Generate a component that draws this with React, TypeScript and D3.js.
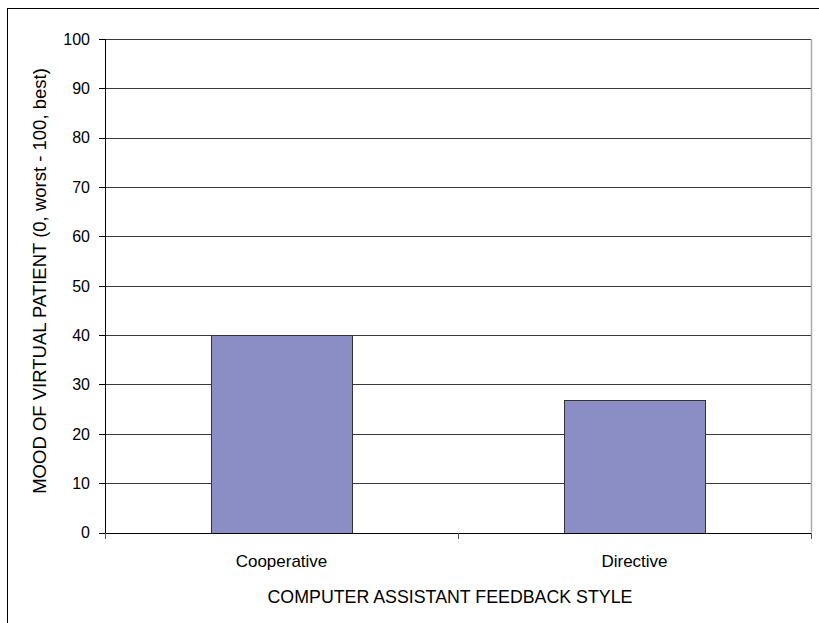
import React from "react";
import * as d3 from "d3";

const categories = ["Cooperative", "Directive"];
const moodValues = [40, 26.8];
const yTicks = [0, 10, 20, 30, 40, 50, 60, 70, 80, 90, 100];

const W = 819;
const H = 623;
const plot = { left: 105, right: 811, top: 39, bottom: 532.5 };
const font = "'Liberation Sans', Arial, sans-serif";

export default function App() {
  const x = d3
    .scaleBand<string>()
    .domain(categories)
    .range([plot.left, plot.right])
    .paddingInner(0.6)
    .paddingOuter(0.3);
  const band = d3.scaleBand<string>().domain(categories).range([plot.left, plot.right]);
  const y = d3.scaleLinear().domain([0, 100]).range([plot.bottom, plot.top]);

  return (
    <svg
      width={W}
      height={H}
      style={{ position: "absolute", left: 0, top: 0, background: "#fff" }}
      fontFamily={font}
    >
      {/* outer chart frame */}
      <rect x={7.5} y={8.5} width={W + 10} height={H + 10} fill="#fff" stroke="#000" strokeWidth={1} />

      {/* gridlines */}
      {yTicks.map((t) => (
        <line
          key={"g" + t}
          x1={plot.left}
          x2={plot.right}
          y1={Math.round(y(t)) + 0.5}
          y2={Math.round(y(t)) + 0.5}
          stroke="#3a3a3a"
          strokeWidth={1.2}
        />
      ))}
      {/* plot area right edge */}
      <line x1={plot.right + 0.5} x2={plot.right + 0.5} y1={plot.top} y2={plot.bottom} stroke="#aaa" strokeWidth={1.5} />

      {/* bars */}
      {categories.map((c, i) => (
        <rect
          key={c}
          x={Math.round(x(c)!) + 0.5}
          y={Math.round(y(moodValues[i])) + 0.5}
          width={Math.round(x.bandwidth())}
          height={Math.round(y(0)) - Math.round(y(moodValues[i]))}
          fill="#8a8ec4"
          stroke="#333"
          strokeWidth={1}
        />
      ))}

      {/* y axis */}
      <line x1={plot.left + 0.5} x2={plot.left + 0.5} y1={plot.top} y2={plot.bottom + 5} stroke="#000" strokeWidth={1} />
      {yTicks.map((t) => (
        <g key={"t" + t}>
          <line
            x1={plot.left - 6}
            x2={plot.left}
            y1={Math.round(y(t)) + 0.5}
            y2={Math.round(y(t)) + 0.5}
            stroke="#000"
          />
          <text x={plot.left - 15} y={y(t)} dy="0.36em" textAnchor="end" fontSize={16} fill="#000">
            {t}
          </text>
        </g>
      ))}

      {/* x axis */}
      <line x1={plot.left} x2={plot.right + 1} y1={Math.round(y(0)) + 0.5} y2={Math.round(y(0)) + 0.5} stroke="#000" />
      {[...categories.map((c) => band(c)!), plot.right].map((bx, i) => (
        <line
          key={"xt" + i}
          x1={Math.round(bx) + 0.5}
          x2={Math.round(bx) + 0.5}
          y1={Math.round(y(0))}
          y2={Math.round(y(0)) + 6}
          stroke="#555"
        />
      ))}
      {categories.map((c) => (
        <text
          key={"l" + c}
          x={band(c)! + band.bandwidth() / 2}
          y={567}
          textAnchor="middle"
          fontSize={17}
          fill="#000"
        >
          {c}
        </text>
      ))}

      <text x={(plot.left + plot.right) / 2 - 8} y={603} textAnchor="middle" fontSize={17.8} fill="#000">
        COMPUTER ASSISTANT FEEDBACK STYLE
      </text>
      <text
        transform={`translate(46, 281) rotate(-90)`}
        textAnchor="middle"
        fontSize={18.5}
        fill="#000"
      >
        MOOD OF VIRTUAL PATIENT (0, worst - 100, best)
      </text>
    </svg>
  );
}
